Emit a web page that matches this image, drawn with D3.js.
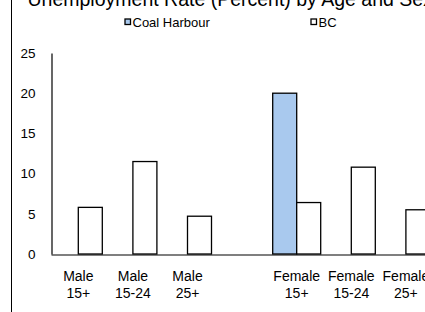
<!DOCTYPE html>
<html><head><meta charset="utf-8">
<script src="https://cdn.jsdelivr.net/npm/d3@7"></script>
<style>body{margin:0;background:#fff;overflow:hidden}svg{display:block}text{font-family:Arial,"Liberation Sans",sans-serif;fill:#000}</style>
</head><body>
<script>
const title = "Unemployment Rate (Percent) by Age and Sex";
const categories = ["Male|15+", "Male|15-24", "Male|25+", " ", "Female|15+", "Female|15-24", "Female|25+"];
const seriesNames = ["Coal Harbour", "BC"];
const coalHarbour = [null, null, null, null, 20.0, null, null];
const bc = [5.8, 11.5, 4.7, null, 6.4, 10.8, 5.5];
const yTicks = [0, 5, 10, 15, 20, 25];
const colors = {"Coal Harbour": "#a9c9ee", "BC": "#ffffff"};

const W = 425, H = 312;
const svg = d3.select("body").append("svg").attr("width", W).attr("height", H);

svg.append("line").attr("x1", 11.5).attr("x2", 11.5).attr("y1", 0).attr("y2", H).attr("stroke", "#000").attr("stroke-width", 1);

svg.append("text").attr("x", 27.5).attr("y", 6).style("font-size", "19.5px").text(title);

const y = d3.scaleLinear().domain([0, 25]).range([254, 53]);
const x0 = d3.scaleBand().domain(categories).range([51, 51 + 7 * 54.6]);
const x1 = d3.scaleBand().domain(seriesNames).range([0, x0.bandwidth()]).paddingOuter(0.1375);

const data = categories.map((c, i) => ({cat: c, vals: [
  {s: "Coal Harbour", v: coalHarbour[i]}, {s: "BC", v: bc[i]}]}));

const g = svg.append("g");
g.selectAll("g.cat").data(data).join("g").attr("class", "cat")
  .attr("transform", d => `translate(${x0(d.cat)},0)`)
  .selectAll("rect").data(d => d.vals.filter(v => v.v != null)).join("rect")
  .attr("x", d => x1(d.s)).attr("width", x1.bandwidth())
  .attr("y", d => y(d.v)).attr("height", d => y(0) - y(d.v))
  .attr("fill", d => colors[d.s]).attr("stroke", "#000").attr("stroke-width", 1.3);

// axes
const yAxis = d3.axisLeft(y).tickValues(yTicks).tickSize(0).tickPadding(16);
const ya = svg.append("g").attr("transform", "translate(51.5,0)").call(yAxis);
ya.select(".domain").attr("stroke", "#000").attr("stroke-width", 1.2);
ya.selectAll("text").style("font-size", "13.5px").style("font-family", "Arial, 'Liberation Sans', sans-serif");

const xAxis = d3.axisBottom(x0).tickSize(0).tickFormat(() => "");
const xa = svg.append("g").attr("transform", "translate(0,254.5)").call(xAxis);
xa.select(".domain").attr("stroke", "#000").attr("stroke-width", 1.2);

const labels = svg.append("g");
labels.selectAll("text").data(categories).join("text")
  .attr("text-anchor", "middle").style("font-size", "14px")
  .attr("transform", d => `translate(${x0(d) + x0.bandwidth() / 2},0)`)
  .each(function(d) {
    const parts = d.split("|");
    const t = d3.select(this);
    parts.forEach((p, i) => t.append("tspan").attr("x", 0).attr("y", 281 + i * 17).text(p));
  });

// legend
const leg = svg.append("g");
const legX = [125, 311];
seriesNames.forEach((s, i) => {
  leg.append("rect").attr("x", legX[i]).attr("y", 19).attr("width", 5.5).attr("height", 5.5)
    .attr("fill", colors[s]).attr("stroke", "#000").attr("stroke-width", 1.3);
  leg.append("text").attr("x", legX[i] + 7.5).attr("y", 27).style("font-size", "13px").text(s);
});
</script>
</body></html>
